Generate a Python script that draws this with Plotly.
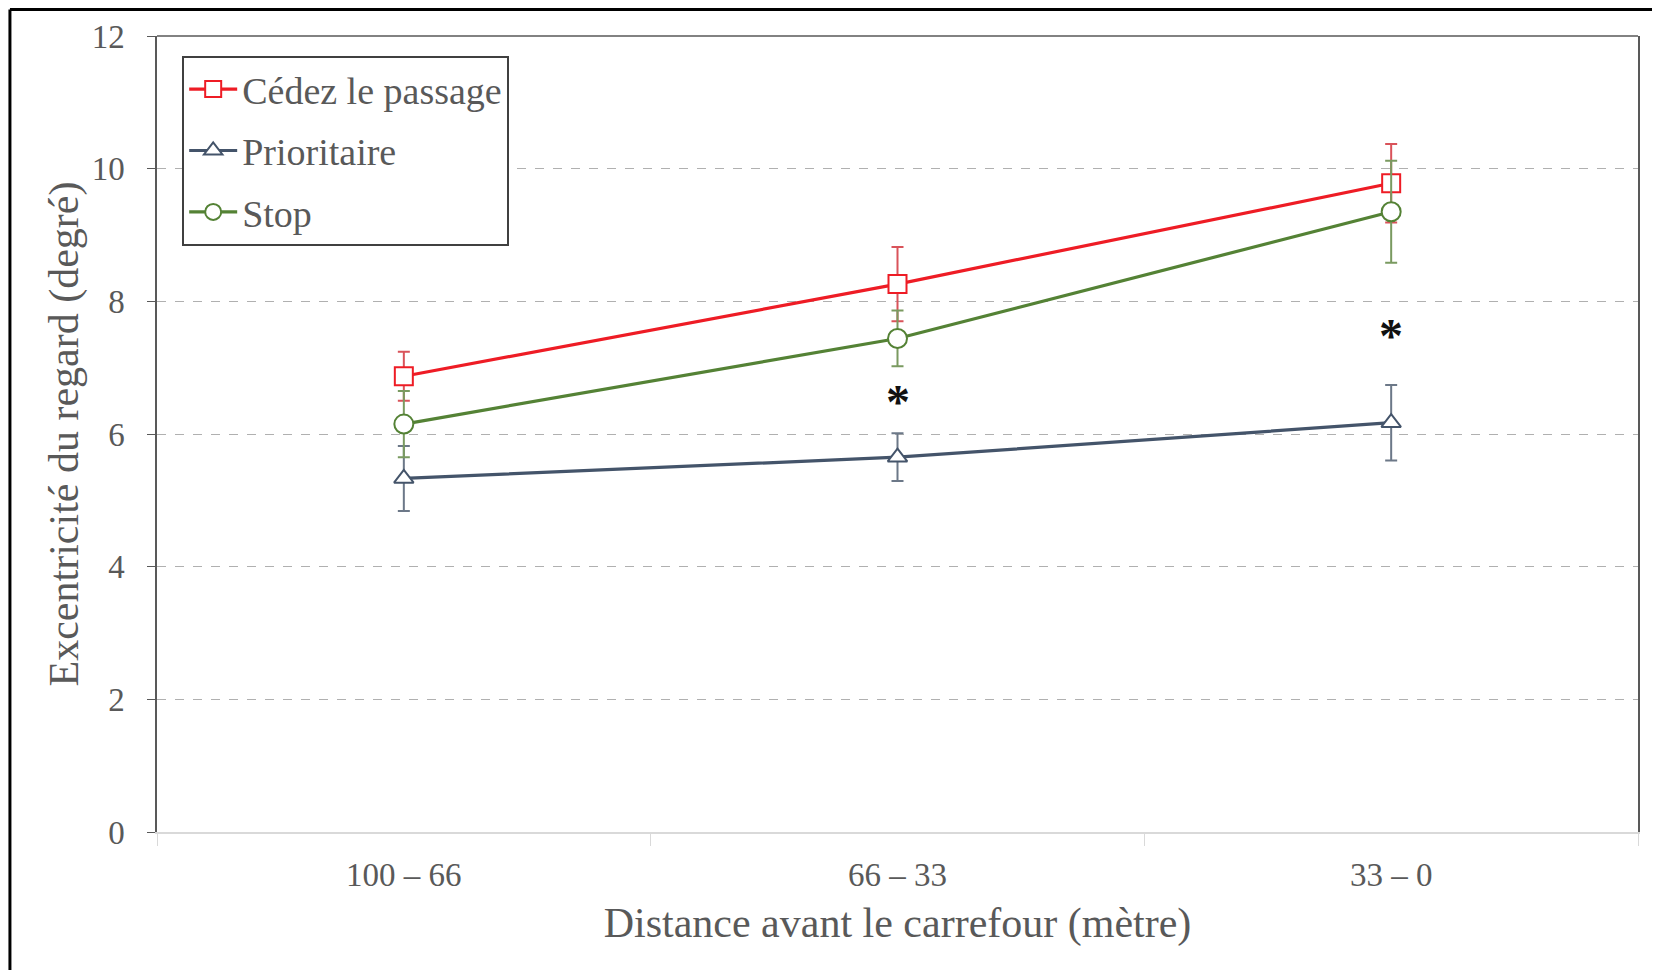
import plotly.graph_objects as go

categories = ["100 – 66", "66 – 33", "33 – 0"]

cedez_vals = [6.87, 8.26, 9.78]
cedez_err = [0.37, 0.56, 0.59]
prio_vals = [5.33, 5.65, 6.17]
prio_err = [0.49, 0.36, 0.57]
stop_vals = [6.15, 7.44, 9.35]
stop_err = [0.50, 0.42, 0.77]

star_cats = ["66 – 33", "33 – 0"]
star_y = [6.49, 7.48]

y_ticks = [0, 2, 4, 6, 8, 10, 12]

FONT = "Liberation Serif, Times New Roman, serif"
TXT = "#595959"

series = [
    ("Cédez le passage", cedez_vals, cedez_err, "#ee1c25", "#d9535a", "square", 18),
    ("Prioritaire", prio_vals, prio_err, "#44546a", "#6c7888", "triangle-up", 17),
    ("Stop", stop_vals, stop_err, "#548235", "#7a9a60", "circle", 19),
]

fig = go.Figure()
for name, vals, err, col, ecol, sym, sz in series:
    fig.add_trace(go.Scatter(
        x=categories, y=vals, name=name, mode="lines+markers",
        legendgroup=name,
        line=dict(color=col, width=3.2),
        marker=dict(symbol=sym, size=sz, color="white", line=dict(color=col, width=2)),
        error_y=dict(type="data", array=err, visible=True, color=ecol, thickness=2, width=6),
    ))

for c, yv in zip(star_cats, star_y):
    fig.add_annotation(x=c, y=yv, text="<b>*</b>", showarrow=False,
                       font=dict(family=FONT, size=48, color="#111111"),
                       xanchor="center", yanchor="middle")

fig.update_layout(
    width=1660, height=970,
    margin=dict(l=149, r=30, t=28, b=146),
    paper_bgcolor="white", plot_bgcolor="white",
    font=dict(family=FONT, color=TXT),
    showlegend=True,
    legend=dict(
        x=0.017, y=0.975, xanchor="left", yanchor="top",
        bgcolor="white", bordercolor="#404040", borderwidth=2,
        font=dict(family=FONT, size=38, color=TXT),
        itemwidth=48, tracegroupgap=9,
        traceorder="grouped",
    ),
    xaxis=dict(
        type="category", range=[-0.5, 2.5],
        showline=True, linecolor="#d9d9d9", linewidth=2,
        ticks="outside", tickson="boundaries", ticklen=12, tickcolor="#d9d9d9", tickwidth=1,
        showgrid=False, zeroline=False,
        tickfont=dict(family=FONT, size=33, color=TXT),
        ticklabelstandoff=12,
        title=dict(text="Distance avant le carrefour (mètre)", font=dict(family=FONT, size=42, color=TXT), standoff=16),
    ),
    yaxis=dict(
        range=[0, 12], tickvals=y_ticks,
        showline=True, linecolor="#595959", linewidth=1.5, mirror=True,
        ticks="outside", ticklen=8, tickcolor="#595959",
        showgrid=True, gridcolor="#b0b0b0", griddash="dash", gridwidth=1,
        zeroline=False,
        tickfont=dict(family=FONT, size=33, color=TXT),
        ticklabelstandoff=16,
        title=dict(text="Excentricité du regard (degré)", font=dict(family=FONT, size=42, color=TXT), standoff=0),
    ),
    shapes=[
        dict(type="line", xref="paper", yref="paper", x0=0, x1=1, y0=1, y1=1,
             line=dict(color="#595959", width=1.5)),
        dict(type="line", xref="paper", yref="paper", x0=-0.0993, x1=1.03, y0=1.0333, y1=1.0333,
             line=dict(color="black", width=3)),
        dict(type="line", xref="paper", yref="paper", x0=-0.0993, x1=-0.0993, y0=1.0333, y1=-0.2,
             line=dict(color="black", width=3)),
    ],
)

fig.write_html("out.html")
